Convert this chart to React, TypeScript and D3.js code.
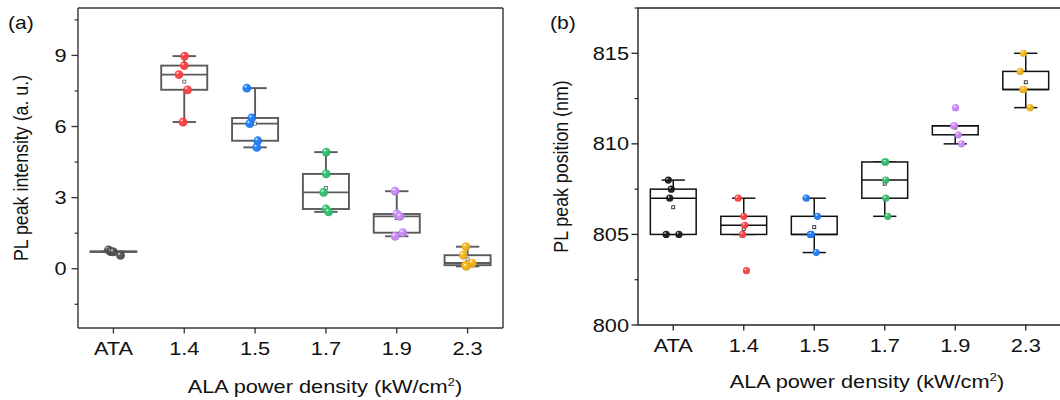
import React from "react";
import * as d3 from "d3";

const categories = ["ATA", "1.4", "1.5", "1.7", "1.9", "2.3"];

// Panel (a): PL peak intensity (a. u.)
const intensityATA = [0.8, 0.73, 0.72, 0.71, 0.56];
const intensity14 = [8.97, 8.57, 8.19, 7.55, 6.19];
const intensity15 = [7.62, 6.36, 6.12, 5.4, 5.12];
const intensity17 = [4.92, 4.0, 3.22, 2.52, 2.4];
const intensity19 = [3.27, 2.31, 2.21, 1.52, 1.37];
const intensity23 = [0.93, 0.57, 0.24, 0.15, 0.1];
// jitter (fraction of category band)
const jitterA = [
  [-0.07, -0.045, -0.03, 0.0, 0.1],
  [0.005, 0.0, -0.075, 0.047, -0.018],
  [-0.117, -0.047, -0.075, 0.038, 0.024],
  [0.004, 0.004, -0.032, 0.0, 0.038],
  [-0.024, 0.0, 0.047, 0.085, -0.024],
  [-0.024, -0.06, 0.066, -0.028, -0.018],
];

// Panel (b): PL peak position (nm)
const positionATA = [808, 807.5, 807, 805, 805];
const position14 = [807, 806, 805.5, 805, 803];
const position15 = [807, 806, 805, 805, 804];
const position17 = [809, 809, 808, 807, 806];
const position19 = [812, 811, 811, 810.5, 810];
const position23 = [815, 814, 813, 813, 812];
const jitterB = [
  [-0.07, -0.028, -0.05, -0.1, 0.08],
  [-0.08, 0.0, 0.014, -0.018, 0.038],
  [-0.113, 0.047, -0.057, -0.042, 0.028],
  [0.0, 0.014, 0.014, 0.014, 0.043],
  [0.004, -0.024, -0.01, 0.043, 0.09],
  [-0.033, -0.08, -0.042, -0.028, 0.061],
];

const ticksA = [0, 3, 6, 9];
const minorA = [-1.5, 1.5, 4.5, 7.5, 10.5];
const ticksB = [800, 805, 810, 815];
const minorB = [802.5, 807.5, 812.5, 817.5];

const colorsA = ["#474747", "#ee3a3c", "#1c6fe3", "#2da862", "#b27ae4", "#d8a015"];
const colorsB = ["#151515", "#ee3a3c", "#1c6fe3", "#2da862", "#b27ae4", "#d8a015"];

const FONT = "'Liberation Sans', Arial, sans-serif";
const SX = 1.17; // horizontal stretch of the reference's text
const FS = 18.6;

type PanelProps = {
  id: string;
  label: string;
  yTitle: string;
  series: number[][];
  jitter: number[][];
  colors: string[];
  ticks: number[];
  minor: number[];
  domain: [number, number];
  left: number;
  right: number;
  top: number;
  bottom: number;
  lineColor: string;
  boxColor: string;
  boxStroke: number;
  pointR: number;
  rightFrame: boolean;
  labelPos: [number, number];
  yTitleX: number;
  xTitleX: number;
  xTitleY: number;
  yLabelGap: number;
};

function stats(vals: number[]) {
  const s = [...vals].sort((a, b) => a - b);
  const q1 = d3.quantile(s, 0.25)!;
  const med = d3.quantile(s, 0.5)!;
  const q3 = d3.quantile(s, 0.75)!;
  const iqr = q3 - q1;
  const lo = d3.min(s.filter((v) => v >= q1 - 1.5 * iqr))!;
  const hi = d3.max(s.filter((v) => v <= q3 + 1.5 * iqr))!;
  const mean = d3.mean(s)!;
  return { q1, med, q3, lo, hi, mean };
}

function T(props: { x: number; y: number; anchor?: string; size?: number; children: React.ReactNode }) {
  return (
    <text
      transform={`translate(${props.x},${props.y}) scale(${SX},1)`}
      textAnchor={props.anchor || "start"}
      fontSize={props.size || FS}
      fontFamily={FONT}
      fill="#111"
    >
      {props.children}
    </text>
  );
}

function Panel(p: PanelProps) {
  const x = d3.scaleBand<string>().domain(categories).range([p.left, p.right]).padding(0);
  const y = d3.scaleLinear().domain(p.domain).range([p.bottom, p.top]);
  const bw = x.bandwidth();
  const boxW = bw * 0.65;
  const capW = bw * 0.33;
  return (
    <g>
      <defs>
        {p.colors.map((c, i) => (
          <radialGradient key={i} id={`${p.id}g${i}`} cx="45%" cy="45%" r="60%" fx="32%" fy="28%">
            <stop offset="0%" stopColor="#ffffff" />
            <stop offset="30%" stopColor={d3.color(c)!.brighter(0.5).formatHex()} />
            <stop offset="100%" stopColor={c} />
          </radialGradient>
        ))}
      </defs>
      {/* boxes */}
      {p.series.map((vals, i) => {
        const cx = x(categories[i])! + bw / 2;
        const st = stats(vals);
        return (
          <g key={"b" + i} stroke={p.boxColor} fill="none" strokeWidth={p.boxStroke}>
            <line x1={cx} x2={cx} y1={y(st.hi)} y2={y(st.q3)} />
            <line x1={cx} x2={cx} y1={y(st.q1)} y2={y(st.lo)} />
            <line x1={cx - capW / 2} x2={cx + capW / 2} y1={y(st.hi)} y2={y(st.hi)} />
            <line x1={cx - capW / 2} x2={cx + capW / 2} y1={y(st.lo)} y2={y(st.lo)} />
            <rect x={cx - boxW / 2} y={y(st.q3)} width={boxW} height={Math.max(0.5, y(st.q1) - y(st.q3))} fill="white" />
            <line x1={cx - boxW / 2} x2={cx + boxW / 2} y1={y(st.med)} y2={y(st.med)} />
            <rect x={cx - 1.5} y={y(st.mean) - 1.5} width={3} height={3} strokeWidth={0.8} fill="white" />
          </g>
        );
      })}
      {/* points */}
      {p.series.map((vals, i) => {
        const cx = x(categories[i])! + bw / 2;
        return vals.map((v, j) => (
          <circle
            key={`p${i}-${j}`}
            cx={cx + p.jitter[i][j] * bw}
            cy={y(v)}
            r={p.pointR}
            fill={`url(#${p.id}g${i})`}
            opacity={0.95}
          />
        ));
      })}
      {/* frame */}
      <line x1={p.left} x2={p.left} y1={p.top} y2={p.bottom} stroke={p.lineColor} strokeWidth={1.4} />
      <line x1={p.left} x2={p.right} y1={p.bottom} y2={p.bottom} stroke={p.lineColor} strokeWidth={1.4} />
      <line x1={p.left} x2={p.right} y1={p.top} y2={p.top} stroke={p.lineColor} strokeWidth={1.4} />
      {p.rightFrame && (
        <line x1={p.right} x2={p.right} y1={p.top} y2={p.bottom} stroke={p.lineColor} strokeWidth={1.4} />
      )}
      {/* y ticks */}
      {p.ticks.map((t) => (
        <g key={"yt" + t}>
          <line x1={p.left - 6.5} x2={p.left} y1={y(t)} y2={y(t)} stroke={p.lineColor} strokeWidth={1.3} />
          <T x={p.left - p.yLabelGap} y={y(t) + 6.6} anchor="end">
            {t}
          </T>
        </g>
      ))}
      {p.minor.map((t) => (
        <line key={"ym" + t} x1={p.left - 3.5} x2={p.left} y1={y(t)} y2={y(t)} stroke={p.lineColor} strokeWidth={1.2} />
      ))}
      {/* x ticks */}
      {categories.map((c) => {
        const cx = x(c)! + bw / 2;
        return (
          <g key={"xt" + c}>
            <line x1={cx} x2={cx} y1={p.bottom} y2={p.bottom + 5.5} stroke={p.lineColor} strokeWidth={1.3} />
            <T x={cx} y={p.bottom + 27} anchor="middle">
              {c}
            </T>
          </g>
        );
      })}
      {/* titles */}
      <text
        transform={`translate(${p.yTitleX},${(p.top + p.bottom) / 2}) rotate(-90) scale(1,${SX})`}
        textAnchor="middle"
        fontSize={17.8}
        fontFamily={FONT}
        fill="#111"
      >
        {p.yTitle}
      </text>
      <T x={p.xTitleX} y={p.xTitleY} anchor="middle">
        ALA power density (kW/cm
        <tspan dy={-7} fontSize={11.5}>
          2
        </tspan>
        <tspan dy={7}>)</tspan>
      </T>
      <T x={p.labelPos[0]} y={p.labelPos[1]} size={18}>
        {p.label}
      </T>
    </g>
  );
}

export default function App() {
  return (
    <svg
      width={1060}
      height={400}
      style={{ position: "absolute", left: 0, top: 0, background: "white" }}
    >
      <Panel
        id="a"
        label="(a)"
        yTitle="PL peak intensity (a. u.)"
        series={[intensityATA, intensity14, intensity15, intensity17, intensity19, intensity23]}
        jitter={jitterA}
        colors={colorsA}
        ticks={ticksA}
        minor={minorA}
        domain={[-2.5, 11]}
        left={78}
        right={503}
        top={8}
        bottom={328}
        lineColor="#333"
        boxColor="#5a5a5a"
        boxStroke={1.9}
        pointR={4.4}
        rightFrame={true}
        labelPos={[8, 29]}
        yTitleX={28}
        xTitleX={325}
        xTitleY={393}
        yLabelGap={11.5}
      />
      <Panel
        id="b"
        label="(b)"
        yTitle="PL peak position (nm)"
        series={[positionATA, position14, position15, position17, position19, position23]}
        jitter={jitterB}
        colors={colorsB}
        ticks={ticksB}
        minor={minorB}
        domain={[800, 817.5]}
        left={638}
        right={1061}
        top={8}
        bottom={325}
        lineColor="#222"
        boxColor="#111"
        boxStroke={1.5}
        pointR={3.6}
        rightFrame={false}
        labelPos={[550, 29]}
        yTitleX={568}
        xTitleX={867}
        xTitleY={388}
        yLabelGap={9}
      />
    </svg>
  );
}
